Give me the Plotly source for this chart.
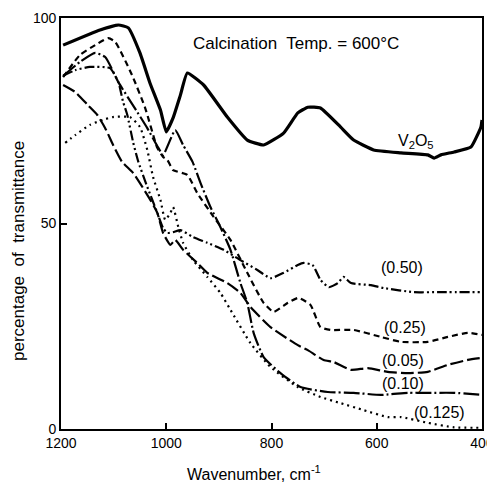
import plotly.graph_objects as go

# ---- data (wavenumber cm^-1, % transmittance) ----
v2o5_x = [1196, 1126, 1091, 1072, 1050, 1031, 1011, 1000, 987, 973, 960, 929, 884, 846, 815, 777, 750, 731, 707, 669, 644, 606, 554, 503, 491, 478, 453, 421, 402, 400]
v2o5_y = [93.4, 97.1, 98.3, 97.6, 91.5, 84.2, 77.6, 72.3, 75.7, 81.3, 86.6, 83.7, 75.9, 70.3, 69.1, 72.0, 76.9, 78.3, 78.1, 73.5, 70.3, 67.9, 67.2, 66.7, 65.9, 66.7, 67.4, 68.6, 73.5, 75.2]

s050_x = [1196, 1173, 1145, 1107, 1091, 1082, 1074, 1063, 1053, 1036, 1017, 1006, 998, 987, 973, 949, 922, 891, 859, 827, 802, 777, 750, 739, 722, 707, 691, 674, 663, 649, 611, 587, 529, 478, 400]
s050_y = [85.9, 87.3, 88.1, 87.8, 84.4, 79.6, 76.4, 69.8, 65.0, 58.9, 52.6, 48.9, 47.7, 47.9, 48.4, 46.7, 45.3, 43.6, 41.1, 38.7, 36.7, 38.0, 39.9, 40.4, 39.9, 36.3, 34.5, 35.5, 37.0, 35.5, 35.0, 34.3, 33.3, 33.3, 33.3]

s025_x = [1196, 1164, 1135, 1110, 1097, 1065, 1040, 1017, 1006, 998, 987, 960, 941, 910, 878, 846, 815, 796, 769, 749, 726, 707, 688, 644, 592, 554, 503, 465, 427, 400]
s025_y = [85.6, 91.0, 93.4, 95.1, 94.2, 86.1, 78.1, 68.4, 66.2, 65.5, 63.0, 61.8, 57.4, 51.6, 46.0, 38.0, 30.7, 28.5, 30.7, 31.9, 30.2, 24.8, 24.1, 24.1, 22.4, 21.2, 21.2, 22.4, 23.4, 22.9]

s005_x = [1196, 1173, 1149, 1131, 1116, 1101, 1084, 1063, 1030, 1017, 1006, 992, 983, 968, 941, 922, 884, 859, 840, 802, 750, 731, 701, 682, 649, 617, 579, 541, 503, 465, 427, 400]
s005_y = [83.7, 82.0, 78.8, 76.4, 73.2, 69.1, 65.0, 62.3, 55.7, 52.6, 47.7, 44.8, 46.0, 43.6, 40.4, 38.0, 35.5, 33.1, 29.7, 24.8, 20.4, 19.2, 16.8, 16.3, 14.4, 14.8, 13.9, 13.6, 13.9, 15.6, 16.8, 17.3]

s010_x = [1196, 1164, 1135, 1116, 1091, 1055, 1036, 1015, 1006, 983, 968, 950, 935, 916, 897, 878, 859, 846, 834, 815, 783, 745, 693, 644, 592, 541, 503, 453, 400]
s010_y = [85.9, 89.3, 91.5, 90.5, 84.4, 77.1, 73.2, 68.4, 66.7, 72.7, 69.1, 65.0, 59.9, 54.0, 49.1, 43.6, 35.5, 30.7, 23.4, 17.5, 13.6, 10.2, 9.0, 8.8, 8.3, 8.8, 8.8, 8.8, 8.3]

s0125_x = [1192, 1173, 1145, 1116, 1101, 1069, 1050, 1036, 1025, 1011, 1002, 992, 987, 977, 968, 949, 922, 897, 878, 840, 802, 750, 707, 669, 625, 579, 554, 503, 453, 400]
s0125_y = [69.6, 71.5, 74.0, 75.4, 75.9, 75.9, 73.5, 67.9, 61.3, 55.7, 50.9, 52.6, 54.0, 49.1, 45.3, 41.1, 37.0, 33.1, 29.0, 20.9, 15.1, 10.2, 7.8, 6.3, 4.6, 2.9, 2.9, 1.5, 0.4, 0.3]

x_ticks = [1200, 1000, 800, 600, 400]
y_ticks = [0, 50, 100]

series = [
    (v2o5_x, v2o5_y, "solid", 3.2, 0.4),
    (s050_x, s050_y, "10px,3px,2px,3px,2px,3px", 2.2, 0.5),
    (s025_x, s025_y, "6px,4px", 2.2, 0.5),
    (s005_x, s005_y, "13px,4px", 2.2, 0.5),
    (s010_x, s010_y, "16px,3px,2px,3px", 2.2, 0.5),
    (s0125_x, s0125_y, "2px,4px", 2.2, 0.5),
]

fig = go.Figure()
for xs, ys, dash, w, sm in series:
    fig.add_trace(go.Scatter(x=xs, y=ys, mode="lines",
                             line=dict(color="black", width=w, dash=dash,
                                       shape="spline", smoothing=sm),
                             showlegend=False, hoverinfo="skip"))

font = "Liberation Sans, Arial, sans-serif"
labels = [
    (416, 141, "V<sub>2</sub>O<sub>5</sub>"),
    (402, 267, "(0.50)"),
    (405, 327, "(0.25)"),
    (403, 360, "(0.05)"),
    (403, 383, "(0.10)"),
    (439, 412, "(0.125)"),
]

def px2x(px):
    return 1200 - (px - 61) * 800 / 421

def py2y(py):
    return (429 - py) * 100 / 411

for px, py, txt in labels:
    fig.add_annotation(x=px2x(px), y=py2y(py), text=txt, showarrow=False,
                       font=dict(family=font, size=16, color="black"),
                       xanchor="center", yanchor="middle")

fig.add_annotation(x=px2x(296), y=py2y(43), text="Calcination  Temp. = 600°C",
                   showarrow=False, font=dict(family=font, size=17, color="black"),
                   xanchor="center", yanchor="middle")

# axis titles placed in paper coordinates
fig.add_annotation(x=(254 - 61) / 421, xref="paper", y=-(473 - 429) / 411, yref="paper",
                   text="Wavenumber, cm<sup>-1</sup>", showarrow=False,
                   font=dict(family=font, size=16, color="black"),
                   xanchor="center", yanchor="middle")
fig.add_annotation(x=-(61 - 18) / 421, xref="paper", y=(429 - 251) / 411, yref="paper",
                   text="percentage  of  transmittance", showarrow=False, textangle=-90,
                   font=dict(family=font, size=17, color="black"),
                   xanchor="center", yanchor="middle")

fig.update_xaxes(range=[1200, 400], tickvals=x_ticks, ticktext=[str(t) for t in x_ticks],
                 ticks="inside", ticklen=6, tickwidth=1.5, tickcolor="black",
                 showline=True, linecolor="black", linewidth=1.8, mirror=True,
                 showgrid=False, zeroline=False, ticklabeloverflow="allow",
                 automargin=False,
                 tickfont=dict(family=font, size=14, color="black"))
fig.update_yaxes(range=[0, 100], tickvals=y_ticks, ticktext=[str(t) for t in y_ticks],
                 ticks="inside", ticklen=6, tickwidth=1.5, tickcolor="black",
                 showline=True, linecolor="black", linewidth=1.8, mirror=True,
                 showgrid=False, zeroline=False, automargin=False,
                 tickfont=dict(family=font, size=14, color="black"))

fig.update_layout(width=487, height=483, margin=dict(l=61, r=5, t=18, b=54),
                  paper_bgcolor="white", plot_bgcolor="white")

fig.write_html("out.html")
